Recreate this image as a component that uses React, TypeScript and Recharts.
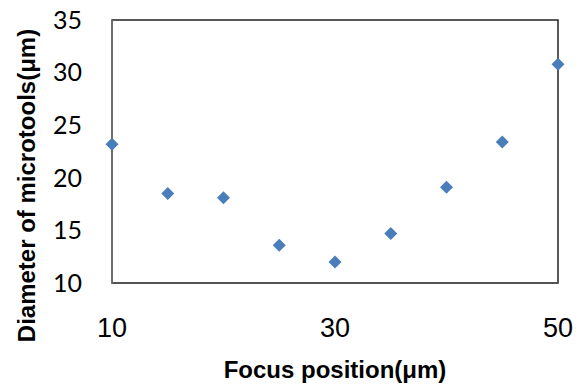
import React from "react";
import {
  ScatterChart,
  Scatter,
  XAxis,
  YAxis,
  Label,
  ReferenceArea,
} from "recharts";

// focus position (um) and measured microtool diameter (um)
const focusPositions = [10, 15, 20, 25, 30, 35, 40, 45, 50];
const diameters = [23.2, 18.5, 18.1, 13.6, 12.0, 14.7, 19.1, 23.4, 30.8];
const xTicks = [10, 30, 50];
const yTicks = [10, 15, 20, 25, 30, 35];

const data = focusPositions.map((x, i) => ({ x, y: diameters[i] }));

const Diamond = (props: any) => {
  const { cx, cy } = props;
  const r = 6.5;
  return (
    <polygon
      points={`${cx},${cy - r} ${cx + r},${cy} ${cx},${cy + r} ${cx - r},${cy}`}
      fill="#4a7ebb"
    />
  );
};

const App = () => {
  return (
    <div style={{ position: "absolute", left: 0, top: 0, background: "#fff" }}>
      <ScatterChart
        width={582}
        height={389}
        margin={{ top: 20, right: 24, left: 0, bottom: 0 }}
      >
        {/* plot frame */}
        <ReferenceArea
          x1={10}
          x2={50}
          y1={10}
          y2={35}
          fill="none"
          fillOpacity={0}
          stroke="#222"
          strokeWidth={1.5}
        />
        <XAxis
          type="number"
          dataKey="x"
          domain={[10, 50]}
          ticks={xTicks}
          height={106}
          tickSize={0}
          tickMargin={35}
          axisLine={{ stroke: "#555", strokeWidth: 1.5 }}
          tick={{ fill: "#000", fontSize: 27, fontFamily: "Liberation Sans, Arial" }}
        >
          <Label
            content={(p: any) => {
              const vb = p.viewBox;
              return (
                <text
                  x={vb.x + vb.width / 2}
                  y={vb.y + 95}
                  textAnchor="middle"
                  fontSize={24}
                  fontWeight="bold"
                  fontFamily="Liberation Sans, Arial"
                  fill="#000"
                >
                  Focus position(μm)
                </text>
              );
            }}
          />
        </XAxis>
        <YAxis
          type="number"
          dataKey="y"
          domain={[10, 35]}
          ticks={yTicks}
          width={112}
          tickSize={0}
          tickMargin={30}
          axisLine={{ stroke: "#777", strokeWidth: 1.5 }}
          tick={{ fill: "#000", fontSize: 25, fontFamily: "Lato, Open Sans" }}
        >
          <Label
            content={(p: any) => {
              const vb = p.viewBox;
              const cx = vb.x + 26;
              const cy = vb.y + vb.height / 2 + 34;
              return (
                <text
                  x={cx}
                  y={cy}
                  transform={`rotate(-90 ${cx} ${cy})`}
                  textAnchor="middle"
                  dominantBaseline="central"
                  fontSize={24}
                  fontWeight="bold"
                  fontFamily="Liberation Sans, Arial"
                  fill="#000"
                >
                  Diameter of microtools(μm)
                </text>
              );
            }}
          />
        </YAxis>
        <Scatter
          data={data}
          shape={<Diamond />}
          isAnimationActive={false}
        />
      </ScatterChart>
    </div>
  );
};

export default App;
